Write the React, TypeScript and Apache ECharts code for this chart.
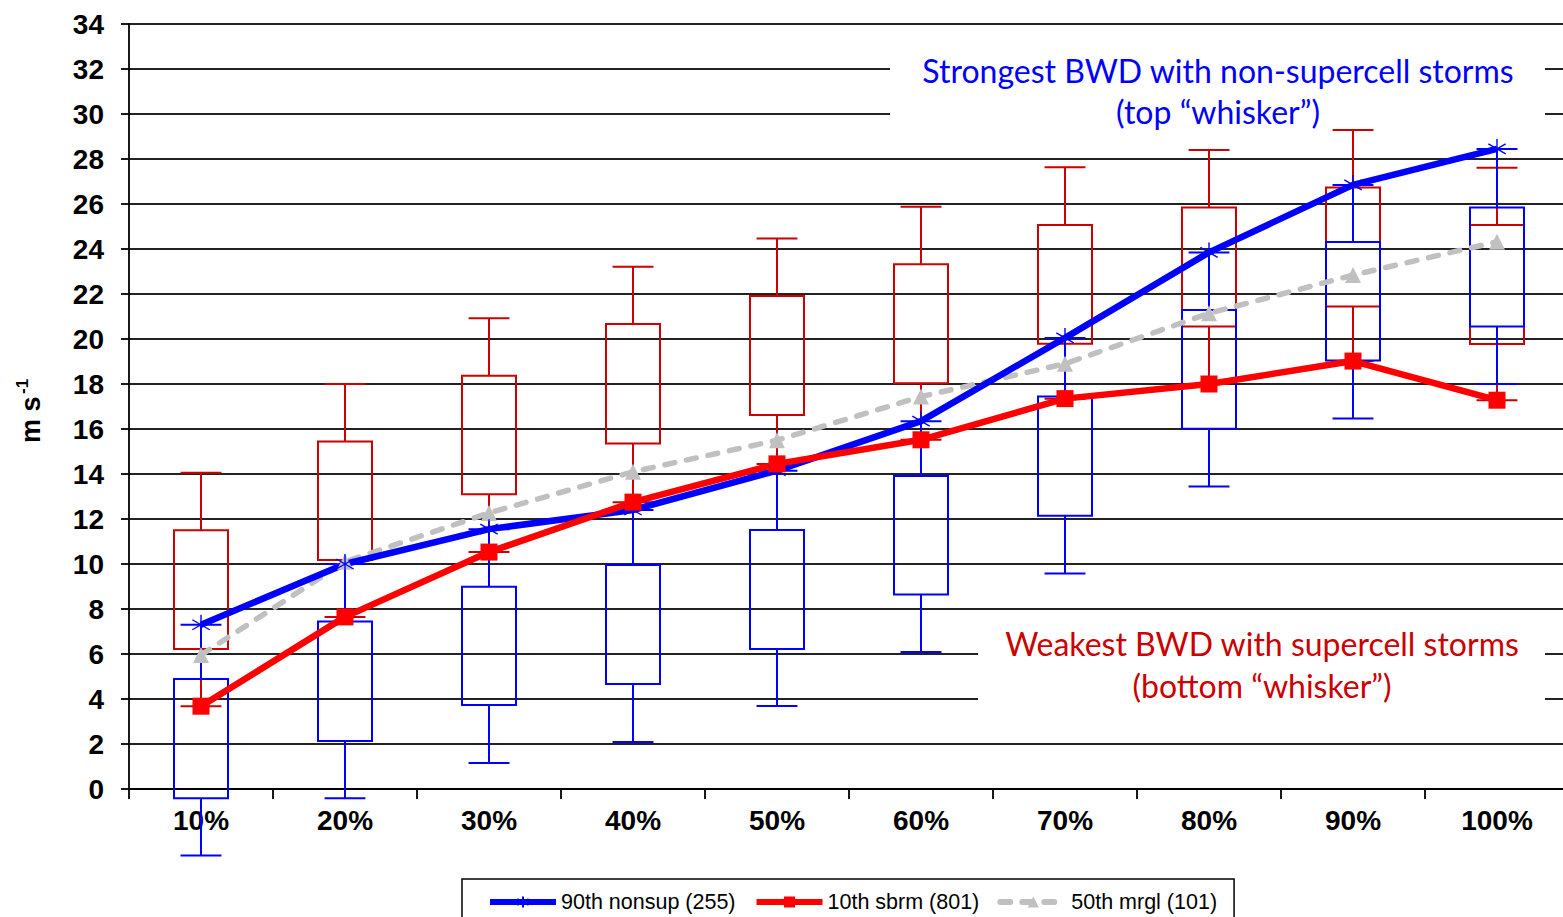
import React, { useEffect, useRef } from "react";
import * as echarts from "echarts";

// Percentile bins along the x axis
const categories = ["10%", "20%", "30%", "40%", "50%", "60%", "70%", "80%", "90%", "100%"];
const yTicks = { min: 0, max: 34, interval: 2 };

// Supercell (sbrm) box-and-whisker values, m s-1
const redHigh = [14.06, 18.0, 20.92, 23.21, 24.47, 25.88, 27.63, 28.4, 29.29, 27.61];
const redQ3 = [11.5, 15.44, 18.37, 20.67, 21.91, 23.32, 25.07, 25.84, 26.73, 25.07];
const redQ1 = [6.22, 10.18, 13.1, 15.36, 16.62, 18.03, 19.79, 20.56, 21.44, 19.78];
const redLow = [3.68, 7.65, 10.53, 12.75, 14.45, 15.52, 17.35, 18.0, 19.02, 17.28];

// Non-supercell box-and-whisker values, m s-1
const blueHigh = [7.3, 10.0, 11.55, 12.4, 14.15, 16.35, 20.05, 23.85, 26.85, 28.45];
const blueQ3 = [4.89, 7.44, 8.99, 9.96, 11.51, 13.91, 17.44, 21.29, 24.31, 25.84];
const blueQ1 = [-0.41, 2.13, 3.73, 4.67, 6.22, 8.65, 12.15, 16.01, 19.04, 20.56];
const blueLow = [-2.96, -0.41, 1.16, 2.09, 3.69, 6.09, 9.58, 13.45, 16.47, 18.0];

// Marginal storms, 50th percentile
const mrglMedian = [5.96, 10.1, 12.27, 14.1, 15.5, 17.44, 18.9, 21.14, 22.84, 24.32];

const seriesNames = ["90th nonsup (255)", "10th sbrm (801)", "50th mrgl (101)"];

const ASTERISK = "path://M10,0L10,20M1.34,5L18.66,15M1.34,15L18.66,5";

function boxRenderer(color: string) {
  return (params: any, api: any) => {
    const idx = api.value(0);
    const wl = api.coord([idx, api.value(1)]);
    const bl = api.coord([idx, api.value(2)]);
    const bh = api.coord([idx, api.value(3)]);
    const wh = api.coord([idx, api.value(4)]);
    const band = api.size([1, 0])[0];
    const half = band * 0.1875;
    const cap = band * 0.142;
    const x = wl[0];
    const style = { stroke: color, lineWidth: 2, fill: "none" };
    return {
      type: "group",
      children: [
        { type: "rect", shape: { x: x - half, y: bh[1], width: 2 * half, height: bl[1] - bh[1] }, style },
        { type: "line", shape: { x1: x, y1: bh[1], x2: x, y2: wh[1] }, style },
        { type: "line", shape: { x1: x, y1: bl[1], x2: x, y2: wl[1] }, style },
        { type: "line", shape: { x1: x - cap, y1: wh[1], x2: x + cap, y2: wh[1] }, style },
        { type: "line", shape: { x1: x - cap, y1: wl[1], x2: x + cap, y2: wl[1] }, style },
      ],
    };
  };
}

const AXIS_FONT = "'Liberation Sans', Arial, sans-serif";
const NOTE_FONT = "Lato, 'Open Sans', sans-serif";

// The plot runs a few pixels past the right edge of the visible frame.
const FRAME_W = 1563;
const FRAME_H = 917;
const CHART_W = 1569;

export default function App() {
  const ref = useRef<HTMLDivElement>(null);

  useEffect(() => {
    if (!ref.current) return;
    const chart = echarts.init(ref.current, undefined, { renderer: "svg" });

    const redBoxes = categories.map((_, i) => [i, redLow[i], redQ1[i], redQ3[i], redHigh[i]]);
    const blueBoxes = categories.map((_, i) => [i, blueLow[i], blueQ1[i], blueQ3[i], blueHigh[i]]);

    const note = (text: string, x: number, y: number, fill: string) => ({
      type: "text",
      z: 4,
      x,
      y,
      style: { text, fontSize: 32, fontFamily: NOTE_FONT, fill, align: "center", verticalAlign: "middle" },
    });

    chart.setOption({
      animation: false,
      backgroundColor: "#ffffff",
      grid: { left: 129, right: 0, top: 24, bottom: 128, containLabel: false },
      xAxis: {
        type: "category",
        data: categories,
        boundaryGap: true,
        axisLine: { lineStyle: { color: "#000", width: 1.8 } },
        axisTick: { show: true, length: 10, interval: 0, lineStyle: { color: "#000", width: 1.8 } },
        axisLabel: {
          color: "#000",
          fontSize: 28,
          fontWeight: "bold",
          fontFamily: AXIS_FONT,
          margin: 17,
          interval: 0,
        },
        splitLine: { show: false },
      },
      yAxis: {
        type: "value",
        min: yTicks.min,
        max: yTicks.max,
        interval: yTicks.interval,
        axisLine: { show: true, lineStyle: { color: "#000", width: 1.8 } },
        axisTick: { show: true, length: 8, lineStyle: { color: "#000", width: 1.8 } },
        axisLabel: {
          color: "#000",
          fontSize: 28,
          fontWeight: "bold",
          fontFamily: AXIS_FONT,
          margin: 25,
        },
        splitLine: { show: true, lineStyle: { color: "#222", width: 1.8 } },
      },
      legend: {
        data: seriesNames,
        left: 462,
        top: 879,
        padding: [12, 17, 12, 25],
        itemWidth: 66,
        itemHeight: 14,
        itemGap: 18,
        borderColor: "#000",
        borderWidth: 1.5,
        backgroundColor: "#fff",
        lineStyle: { width: 6 },
        textStyle: { color: "#000", fontSize: 21.5, fontFamily: AXIS_FONT },
      },
      graphic: [
        {
          type: "group",
          x: 31,
          y: 410,
          rotation: Math.PI / 2,
          children: [
            {
              type: "text",
              x: -33,
              y: 0,
              style: {
                text: "m s",
                fontSize: 27,
                fontWeight: "bold",
                fontFamily: AXIS_FONT,
                fill: "#000",
                align: "left",
                verticalAlign: "middle",
              },
            },
            {
              type: "text",
              x: 16,
              y: -9,
              style: {
                text: "-1",
                fontSize: 17,
                fontWeight: "bold",
                fontFamily: AXIS_FONT,
                fill: "#000",
                align: "left",
                verticalAlign: "middle",
              },
            },
          ],
        },
        { type: "rect", z: 3, shape: { x: 890, y: 48, width: 655, height: 78 }, style: { fill: "#fff" } },
        { type: "rect", z: 3, shape: { x: 978, y: 622, width: 567, height: 90 }, style: { fill: "#fff" } },
        note("Strongest BWD with non-supercell storms", 1218, 70, "#0000ff"),
        note("(top \u201cwhisker\u201d)", 1218, 111, "#0000ff"),
        note("Weakest BWD with supercell storms", 1262, 643, "#cc0000"),
        note("(bottom \u201cwhisker\u201d)", 1262, 685, "#cc0000"),
      ],
      series: [
        {
          type: "custom",
          name: "sbrm boxes",
          renderItem: boxRenderer("#cc0000"),
          encode: { x: 0, y: [1, 2, 3, 4] },
          data: redBoxes,
          z: 1,
          silent: true,
        },
        {
          type: "custom",
          name: "nonsup boxes",
          renderItem: boxRenderer("#0000ff"),
          encode: { x: 0, y: [1, 2, 3, 4] },
          data: blueBoxes,
          z: 1,
          silent: true,
        },
        {
          type: "line",
          name: seriesNames[2],
          data: mrglMedian,
          symbol: "triangle",
          symbolSize: 16,
          lineStyle: { color: "#c0c0c0", width: 5.5, type: [10, 12], cap: "round" },
          itemStyle: { color: "#c0c0c0" },
          z: 2,
        },
        {
          type: "line",
          name: seriesNames[0],
          data: blueHigh,
          symbol: ASTERISK,
          symbolSize: 20,
          symbolKeepAspect: true,
          lineStyle: { color: "#0000ff", width: 6.5 },
          itemStyle: { color: "#0000ff", borderColor: "#0000ff", borderWidth: 1.4 },
          z: 2,
        },
        {
          type: "line",
          name: seriesNames[1],
          data: redLow,
          symbol: "rect",
          symbolSize: 17,
          lineStyle: { color: "#ff0000", width: 6.5 },
          itemStyle: { color: "#ff0000" },
          z: 2,
        },
      ],
    });

    return () => chart.dispose();
  }, []);

  return (
    <div
      style={{
        position: "absolute",
        left: 0,
        top: 0,
        width: FRAME_W,
        height: FRAME_H,
        overflow: "hidden",
        background: "#fff",
      }}
    >
      <div ref={ref} style={{ width: CHART_W, height: FRAME_H }} />
    </div>
  );
}
